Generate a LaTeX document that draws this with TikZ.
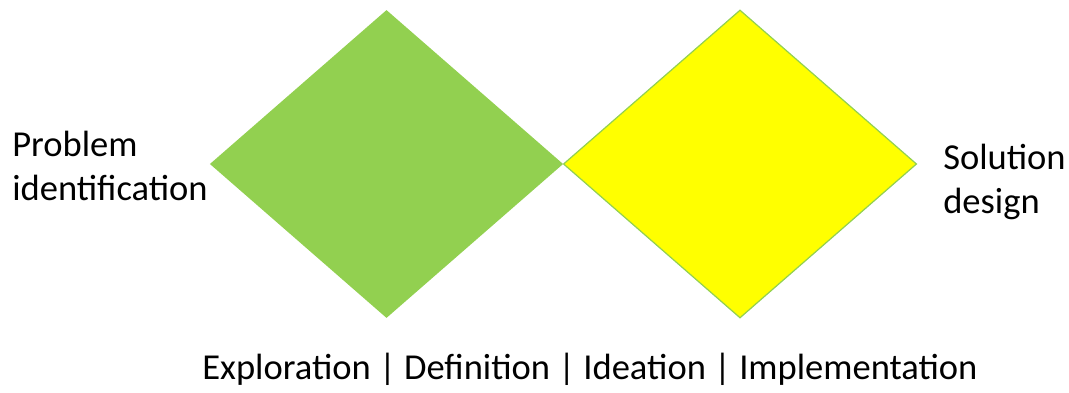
\documentclass[tikz,border=0pt]{standalone}
\usepackage{fontspec}
\setmainfont{Carlito}
\usetikzlibrary{shapes.geometric,positioning}
\definecolor{leafgreen}{RGB}{146,208,80}
\definecolor{brightyellow}{RGB}{255,255,0}

\begin{document}
\begin{tikzpicture}[
 x=0.75pt,y=-0.75pt,
 phase/.style={diamond,inner sep=0pt,minimum width=265pt,minimum height=231pt},
 label/.style={font=\fontsize{27.4}{33}\selectfont,inner sep=0pt,align=left}]
 \useasboundingbox (0,0) rectangle (1069,392);
 \node[phase,fill=leafgreen] (problem) at (386.5,164) {};
 \node[phase,fill=brightyellow,draw=leafgreen,line width=0.9pt] (solution) at (740,164) {};
 \node[label,anchor=west] (problemtext) at (12,166) {Problem\\identification};
 \node[label,anchor=west] (solutiontext) at (943,182) {Solution\\design};
 \node[label] (stages) at (590,369) {Exploration | Definition | Ideation | Implementation};
\end{tikzpicture}
\end{document}
